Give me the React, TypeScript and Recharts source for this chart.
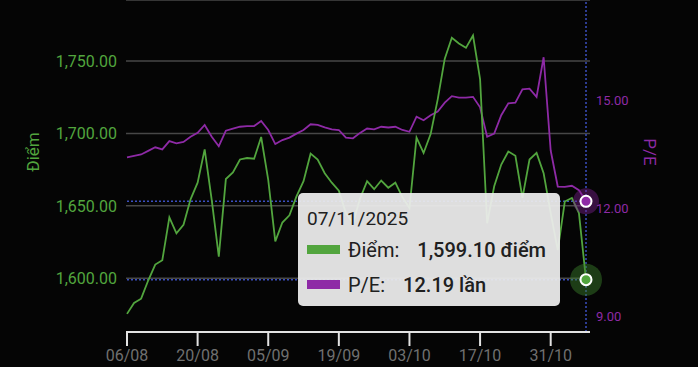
import {
  LineChart,
  Line,
  XAxis,
  YAxis,
  CartesianGrid,
  Tooltip,
  ReferenceLine,
  ReferenceDot,
} from "recharts";

// trading days, Aug 6 -> Nov 7 2025 (dd/mm)
const dates = [
  "06/08", "07/08", "08/08", "11/08", "12/08", "13/08", "14/08", "15/08", "18/08", "19/08",
  "20/08", "21/08", "22/08", "25/08", "26/08", "27/08", "28/08", "29/08", "03/09", "04/09",
  "05/09", "08/09", "09/09", "10/09", "11/09", "12/09", "15/09", "16/09", "17/09", "18/09",
  "19/09", "22/09", "23/09", "24/09", "25/09", "26/09", "29/09", "30/09", "01/10", "02/10",
  "03/10", "06/10", "07/10", "08/10", "09/10", "10/10", "13/10", "14/10", "15/10", "16/10",
  "17/10", "20/10", "21/10", "22/10", "23/10", "24/10", "27/10", "28/10", "29/10", "30/10",
  "31/10", "03/11", "04/11", "05/11", "06/11", "07/11",
];
const year = "2025";

const points = [
  1575.5, 1583, 1586, 1598.5, 1609.5, 1612.5, 1642, 1631, 1637, 1654.5,
  1666, 1689, 1654, 1615, 1668.5, 1673, 1682, 1683, 1682.5, 1697.5,
  1668, 1625.5, 1638.5, 1643.5, 1656.5, 1667, 1686, 1682, 1672.5, 1666,
  1660.5, 1645, 1638, 1655, 1667, 1661.5, 1667.5, 1662.5, 1666, 1656,
  1648.5, 1697, 1686.5, 1699.5, 1723.5, 1751.5, 1766, 1762, 1759, 1767.5,
  1737.5, 1638, 1663.5, 1678.5, 1687.5, 1684.5, 1655.5, 1682, 1686.5, 1672.5,
  1645, 1619.5, 1653, 1655.5, 1645, 1599.1,
];

const pe = [
  13.41, 13.45, 13.49, 13.59, 13.69, 13.63, 13.86, 13.8, 13.84, 13.98,
  14.09, 14.31, 13.98, 13.72, 14.15, 14.21, 14.26, 14.28, 14.28, 14.42,
  14.17, 13.78, 13.89, 13.96, 14.07, 14.17, 14.33, 14.31, 14.24, 14.19,
  14.17, 13.96, 13.94, 14.09, 14.21, 14.19, 14.26, 14.24, 14.26, 14.17,
  14.12, 14.54, 14.44, 14.58, 14.68, 14.93, 15.11, 15.07, 15.07, 15.09,
  14.8, 13.98, 14.07, 14.58, 14.91, 14.93, 15.3, 15.32, 15.09, 16.19,
  13.6, 12.6, 12.59, 12.62, 12.5, 12.19,
];

const pointTicks = [1600, 1650, 1700, 1750];
const peTicks = [9, 12, 15];

const GREEN = "#52a53e";
const PURPLE = "#8e2aa6";
const BLUE = "#3b4fc0";

const data = dates.map((d, i) => ({ date: d, points: points[i], pe: pe[i] }));
const last = data.length - 1;

const fmt2 = (v: number) =>
  v.toLocaleString("en-US", { minimumFractionDigits: 2, maximumFractionDigits: 2 });

function TipBox({ payload, label }: any) {
  const got = payload && payload.length ? payload : [
    { dataKey: "pe", value: pe[last] },
    { dataKey: "points", value: points[last] },
  ];
  // Điểm first, then P/E
  const items = [...got].sort((a: any, b: any) => (a.dataKey === "points" ? -1 : 1) - (b.dataKey === "points" ? -1 : 1));
  return (
    <div
      style={{
        background: "rgba(236,236,236,0.94)",
        borderRadius: 5,
        width: 262,
        height: 113,
        boxSizing: "border-box",
        padding: "12px 9px 0 9px",
        color: "#202020",
        fontFamily: "Roboto, sans-serif",
      }}
    >
      <div style={{ fontSize: 19, lineHeight: "27px" }}>{(label ?? dates[last]) + "/" + year}</div>
      {items.map((it: any) => (
        <div key={it.dataKey} style={{ display: "flex", alignItems: "center", height: 35, fontSize: 20 }}>
          <span style={{ width: 33, height: 9, background: it.dataKey === "pe" ? PURPLE : GREEN, marginRight: 8 }} />
          <span>{it.dataKey === "pe" ? "P/E:" : "Điểm:"}</span>
          <span style={{ marginLeft: 18, fontWeight: 500 }}>
            {it.dataKey === "pe" ? `${Number(it.value).toFixed(2)} lần` : `${fmt2(Number(it.value))} điểm`}
          </span>
        </div>
      ))}
    </div>
  );
}

const Halo = (color: string, halo: string, r: number) => (props: any) => (
  <g>
    <circle cx={props.cx} cy={props.cy} r={r} fill={halo} />
    <circle cx={props.cx} cy={props.cy} r={5.5} fill={color} stroke="#fff" strokeWidth={2} />
  </g>
);

export default function App() {
  return (
    <div
      style={{
        position: "fixed",
        left: 0,
        top: 0,
        width: 698,
        height: 367,
        background: "#050505",
        fontFamily: "Roboto, sans-serif",
      }}
    >
      <LineChart width={698} height={367} data={data} margin={{ top: 0, right: 0, bottom: 0, left: 0 }}>
        <CartesianGrid yAxisId="left" vertical={false} stroke="#474747" strokeWidth={1.5} />
        <XAxis
          dataKey="date"
          height={35}
          interval={9}
          padding={{ left: 1, right: 4 }}
          axisLine={{ stroke: "#e2e2e2", strokeWidth: 2 }}
          tickLine={{ stroke: "#e2e2e2", strokeWidth: 2 }}
          tickSize={14}
          tickMargin={4}
          tick={{ fill: "#707070", fontSize: 16 }}
        />
        <YAxis
          yAxisId="left"
          width={126}
          domain={[1563, 1792]}
          ticks={pointTicks}
          axisLine={false}
          tickLine={false}
          tickMargin={3}
          tick={{ fill: GREEN, fontSize: 16 }}
          tickFormatter={fmt2}
          label={{ value: "Điểm", angle: -90, position: "center", dx: -30, dy: -14, fill: GREEN, fontSize: 17 }}
        />
        <YAxis
          yAxisId="right"
          orientation="right"
          width={108}
          domain={[8.56, 17.78]}
          ticks={peTicks}
          axisLine={false}
          tickLine={false}
          tickMargin={0}
          tick={{ fill: PURPLE, fontSize: 13 }}
          tickFormatter={(v: number) => v.toFixed(2)}
          label={{ value: "P/E", angle: 90, position: "center", dx: 6, dy: -14, fill: PURPLE, fontSize: 17 }}
        />
        <ReferenceLine
          yAxisId="left"
          segment={[{ x: dates[0], y: points[last] }, { x: dates[last], y: points[last] }]}
          stroke={BLUE}
          strokeWidth={1.5}
          strokeDasharray="2 2"
        />
        <ReferenceLine
          yAxisId="right"
          segment={[{ x: dates[0], y: pe[last] }, { x: dates[last], y: pe[last] }]}
          stroke={BLUE}
          strokeWidth={1.5}
          strokeDasharray="2 2"
        />
        <ReferenceLine yAxisId="left" x={dates[last]} stroke={BLUE} strokeWidth={1.5} strokeDasharray="2 2" />
        <Line
          yAxisId="right"
          dataKey="pe"
          stroke={PURPLE}
          strokeWidth={1.8}
          dot={false}
          activeDot={false}
          isAnimationActive={false}
        />
        <Line
          yAxisId="left"
          dataKey="points"
          stroke={GREEN}
          strokeWidth={1.8}
          dot={false}
          activeDot={false}
          isAnimationActive={false}
        />
        <ReferenceDot
          yAxisId="right"
          x={dates[last]}
          y={pe[last]}
          shape={Halo(PURPLE, "rgba(120,30,140,0.45)", 13)}
        />
        <ReferenceDot
          yAxisId="left"
          x={dates[last]}
          y={points[last]}
          shape={Halo(GREEN, "rgba(60,130,45,0.45)", 16)}
        />
        <Tooltip
          active
          defaultIndex={last}
          cursor={false}
          isAnimationActive={false}
          position={{ x: 298, y: 193 }}
          content={<TipBox />}
          wrapperStyle={{ outline: "none" }}
        />
      </LineChart>
    </div>
  );
}
